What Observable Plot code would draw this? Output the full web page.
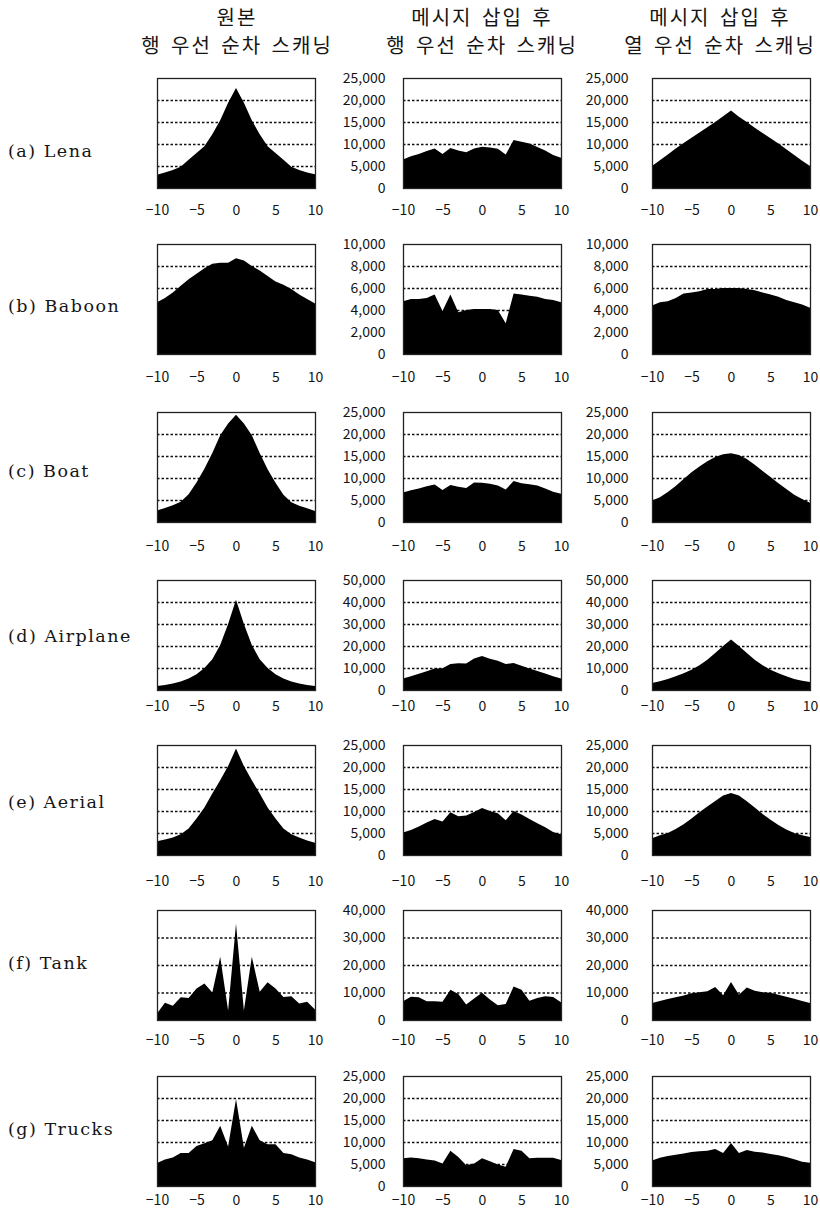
<!DOCTYPE html>
<html><head><meta charset="utf-8">
<script src="https://cdn.jsdelivr.net/npm/d3@7"></script>
<script src="https://cdn.jsdelivr.net/npm/@observablehq/plot@0.6"></script>
<style>
body{margin:0;background:#fff;}
#root{position:relative;width:820px;height:1209px;overflow:hidden;background:#fff;}
.hd{position:absolute;width:320px;text-align:center;font-family:"Noto Sans CJK KR";font-size:20px;letter-spacing:2px;word-spacing:3px;color:#151515;line-height:1;white-space:nowrap;}
.rl{position:absolute;left:8px;font-family:"DejaVu Serif";font-size:17.5px;letter-spacing:1.5px;color:#151515;white-space:nowrap;line-height:1;}
.cell{position:absolute;}
</style></head><body><div id="root"></div>
<script>
// ---- data ----
const xValues = [-10,-9,-8,-7,-6,-5,-4,-3,-2,-1,0,1,2,3,4,5,6,7,8,9,10];
const xTicks = [-10,-5,0,5,10];
const columnTitles = [["원본","행 우선 순차 스캐닝"],["메시지 삽입 후","행 우선 순차 스캐닝"],["메시지 삽입 후","열 우선 순차 스캐닝"]];
const rowLabels = ["(a) Lena","(b) Baboon","(c) Boat","(d) Airplane","(e) Aerial","(f) Tank","(g) Trucks"];

const yTicksA = [0,5000,10000,15000,20000,25000];
const yTicksB = [0,2000,4000,6000,8000,10000];
const yTicksC = [0,5000,10000,15000,20000,25000];
const yTicksD = [0,10000,20000,30000,40000,50000];
const yTicksE = [0,5000,10000,15000,20000,25000];
const yTicksF = [0,10000,20000,30000,40000];
const yTicksG = [0,5000,10000,15000,20000,25000];

const lenaOrig = [3000,3500,4100,4850,6400,7950,9500,12200,15400,19400,22700,19400,15400,12200,9500,7950,6400,4850,4100,3500,3100];
const lenaRow  = [6500,7200,7700,8400,9000,7700,9100,8500,8100,9000,9400,9200,8900,7600,10900,10500,10100,9300,8500,7500,6900];
const lenaCol  = [5000,6300,7600,9000,10200,11400,12600,13800,15000,16300,17600,16200,15000,13700,12500,11300,10100,8800,7500,6200,5000];

const baboonOrig = [4700,5100,5600,6200,6800,7300,7800,8200,8300,8300,8700,8500,8000,7600,7100,6600,6300,5900,5400,5000,4600];
const baboonRow  = [4800,5000,5000,5100,5400,3900,5400,3800,4000,4100,4100,4100,4000,2800,5500,5400,5300,5200,5000,4900,4700];
const baboonCol  = [4400,4700,4800,5100,5500,5600,5700,5900,5900,6000,6000,6000,5900,5800,5600,5400,5200,4900,4700,4500,4200];

const boatOrig = [2600,3200,3800,4600,6300,8950,12100,15700,19700,22400,24400,22400,19700,15700,12000,8900,6200,4500,3700,3100,2500];
const boatRow  = [6700,7200,7600,8100,8500,7300,8400,8000,7700,9000,8900,8700,8300,7400,9300,8800,8600,8300,7600,6900,6400];
const boatCol  = [4900,5600,6800,8200,9800,11300,12600,13800,14800,15400,15600,15200,14300,13000,11600,10200,8800,7500,6200,5200,4400];

const airplaneOrig = [1800,2300,3000,3900,5200,7200,10000,14000,20500,30000,41000,30000,20500,14000,10000,7200,5200,3900,3000,2300,1800];
const airplaneRow  = [5200,6300,7400,8500,9800,9900,11800,12200,12000,14300,15500,14200,13300,11800,12300,11000,9800,8600,7500,6300,5200];
const airplaneCol  = [3200,4000,5000,6200,7600,9200,11200,13800,16800,20000,23000,20000,16800,13800,11200,9200,7600,6200,5000,4200,3600];

const aerialOrig = [3100,3500,4000,4700,6000,8300,10800,14000,17000,20200,24200,20200,17000,14000,10800,8300,6000,4700,4000,3300,2800];
const aerialRow  = [5100,5700,6500,7400,8200,7600,9700,8800,9000,9800,10700,10000,9500,7900,10000,9200,8200,7200,6300,5200,4700];
const aerialCol  = [3800,4500,5000,5900,7000,8300,9700,11000,12300,13500,14100,13500,12200,10800,9300,8000,6800,5800,5000,4500,4100];

const tankOrig = [2400,6300,5200,8300,8000,11500,13300,10000,23000,3500,35000,3500,23000,10300,13700,11500,8400,8600,6000,6600,3800];
const tankRow  = [6800,8500,8300,6800,6800,6600,11000,9500,5600,7800,9900,7500,5400,5800,12200,11000,7000,8000,8600,8400,6500];
const tankCol  = [6200,6900,7600,8300,8900,9700,10100,10500,12000,9000,13800,9200,11800,10600,10100,9900,9200,8500,7700,6900,6200];

const trucksOrig = [5200,6000,6500,7500,7500,9100,9700,10400,13700,9000,19800,8700,13700,10400,9500,9500,7500,7200,6500,6000,5400];
const trucksRow  = [6300,6500,6300,6000,5800,5100,8000,6600,4700,5100,6300,5600,4900,4400,8400,8000,6300,6400,6400,6400,5900];
const trucksCol  = [5800,6400,6800,7100,7400,7700,7900,8000,8400,7500,9800,7500,8200,7800,7600,7300,7000,6600,6100,5500,5300];

const rows = [
  {ticks: yTicksA, series: [lenaOrig, lenaRow, lenaCol]},
  {ticks: yTicksB, series: [baboonOrig, baboonRow, baboonCol]},
  {ticks: yTicksC, series: [boatOrig, boatRow, boatCol]},
  {ticks: yTicksD, series: [airplaneOrig, airplaneRow, airplaneCol]},
  {ticks: yTicksE, series: [aerialOrig, aerialRow, aerialCol]},
  {ticks: yTicksF, series: [tankOrig, tankRow, tankCol]},
  {ticks: yTicksG, series: [trucksOrig, trucksRow, trucksCol]},
];

// ---- layout ----
const root = document.getElementById("root");
const rowTop = [78,244,412,580,745,910,1076];
const rowLabelY = [153,308,473,638,804,965,1131];
const xPad = [17,18,19,11,21,15,9];
const colLeft = [157,403,652];
const colHeadX = [237,482,720];
const yPad = [18,18,24];
const frameW = 158, frameH = 110;
const ml = 80, mr = 16, mt = 6, mb = 44;
const font = "'Noto Sans CJK KR', sans-serif";

columnTitles.forEach((t, c) => {
  t.forEach((line, i) => {
    const d = document.createElement("div");
    d.className = "hd";
    d.textContent = line;
    d.style.left = (colHeadX[c] - 160) + "px";
    d.style.top = (i === 0 ? 7 : 35) + "px";
    root.appendChild(d);
  });
});

rowLabels.forEach((lab, r) => {
  const d = document.createElement("div");
  d.className = "rl";
  d.textContent = lab;
  d.style.top = (rowLabelY[r] - 10) + "px";
  root.appendChild(d);
});

rows.forEach((row, r) => {
  const yMax = row.ticks[row.ticks.length - 1];
  const grid = row.ticks.filter(v => v > 0 && v < yMax);
  row.series.forEach((vals, c) => {
    const data = xValues.map((x, i) => ({x, y: vals[i]}));
    const marks = [
      Plot.ruleY(grid, {stroke: "#111", strokeWidth: 1.3, strokeDasharray: "2.5,2"}),
      Plot.areaY(data, {x: "x", y: "y", fill: "#000", curve: "linear"}),
      Plot.frame({stroke: "#222", strokeWidth: 1.3}),
      Plot.axisX({ticks: xTicks, tickSize: 0, tickPadding: xPad[r], fontSize: 14, label: null})
    ];
    if (c > 0) marks.push(Plot.axisY({ticks: row.ticks, tickSize: 0, tickPadding: yPad[c], tickFormat: d3.format(","), fontSize: 14, label: null}));
    const chart = Plot.plot({
      width: frameW + ml + mr, height: frameH + mt + mb,
      marginLeft: ml, marginRight: mr, marginTop: mt, marginBottom: mb,
      style: {fontFamily: font, color: "#151515", background: "transparent", overflow: "visible"},
      x: {domain: [-10, 10], label: null},
      y: {domain: [0, yMax], label: null, axis: c > 0 ? undefined : null},
      marks
    });
    chart.classList.add("cell");
    chart.style.left = (colLeft[c] - ml) + "px";
    chart.style.top = (rowTop[r] - mt) + "px";
    root.appendChild(chart);
  });
});
</script></body></html>
